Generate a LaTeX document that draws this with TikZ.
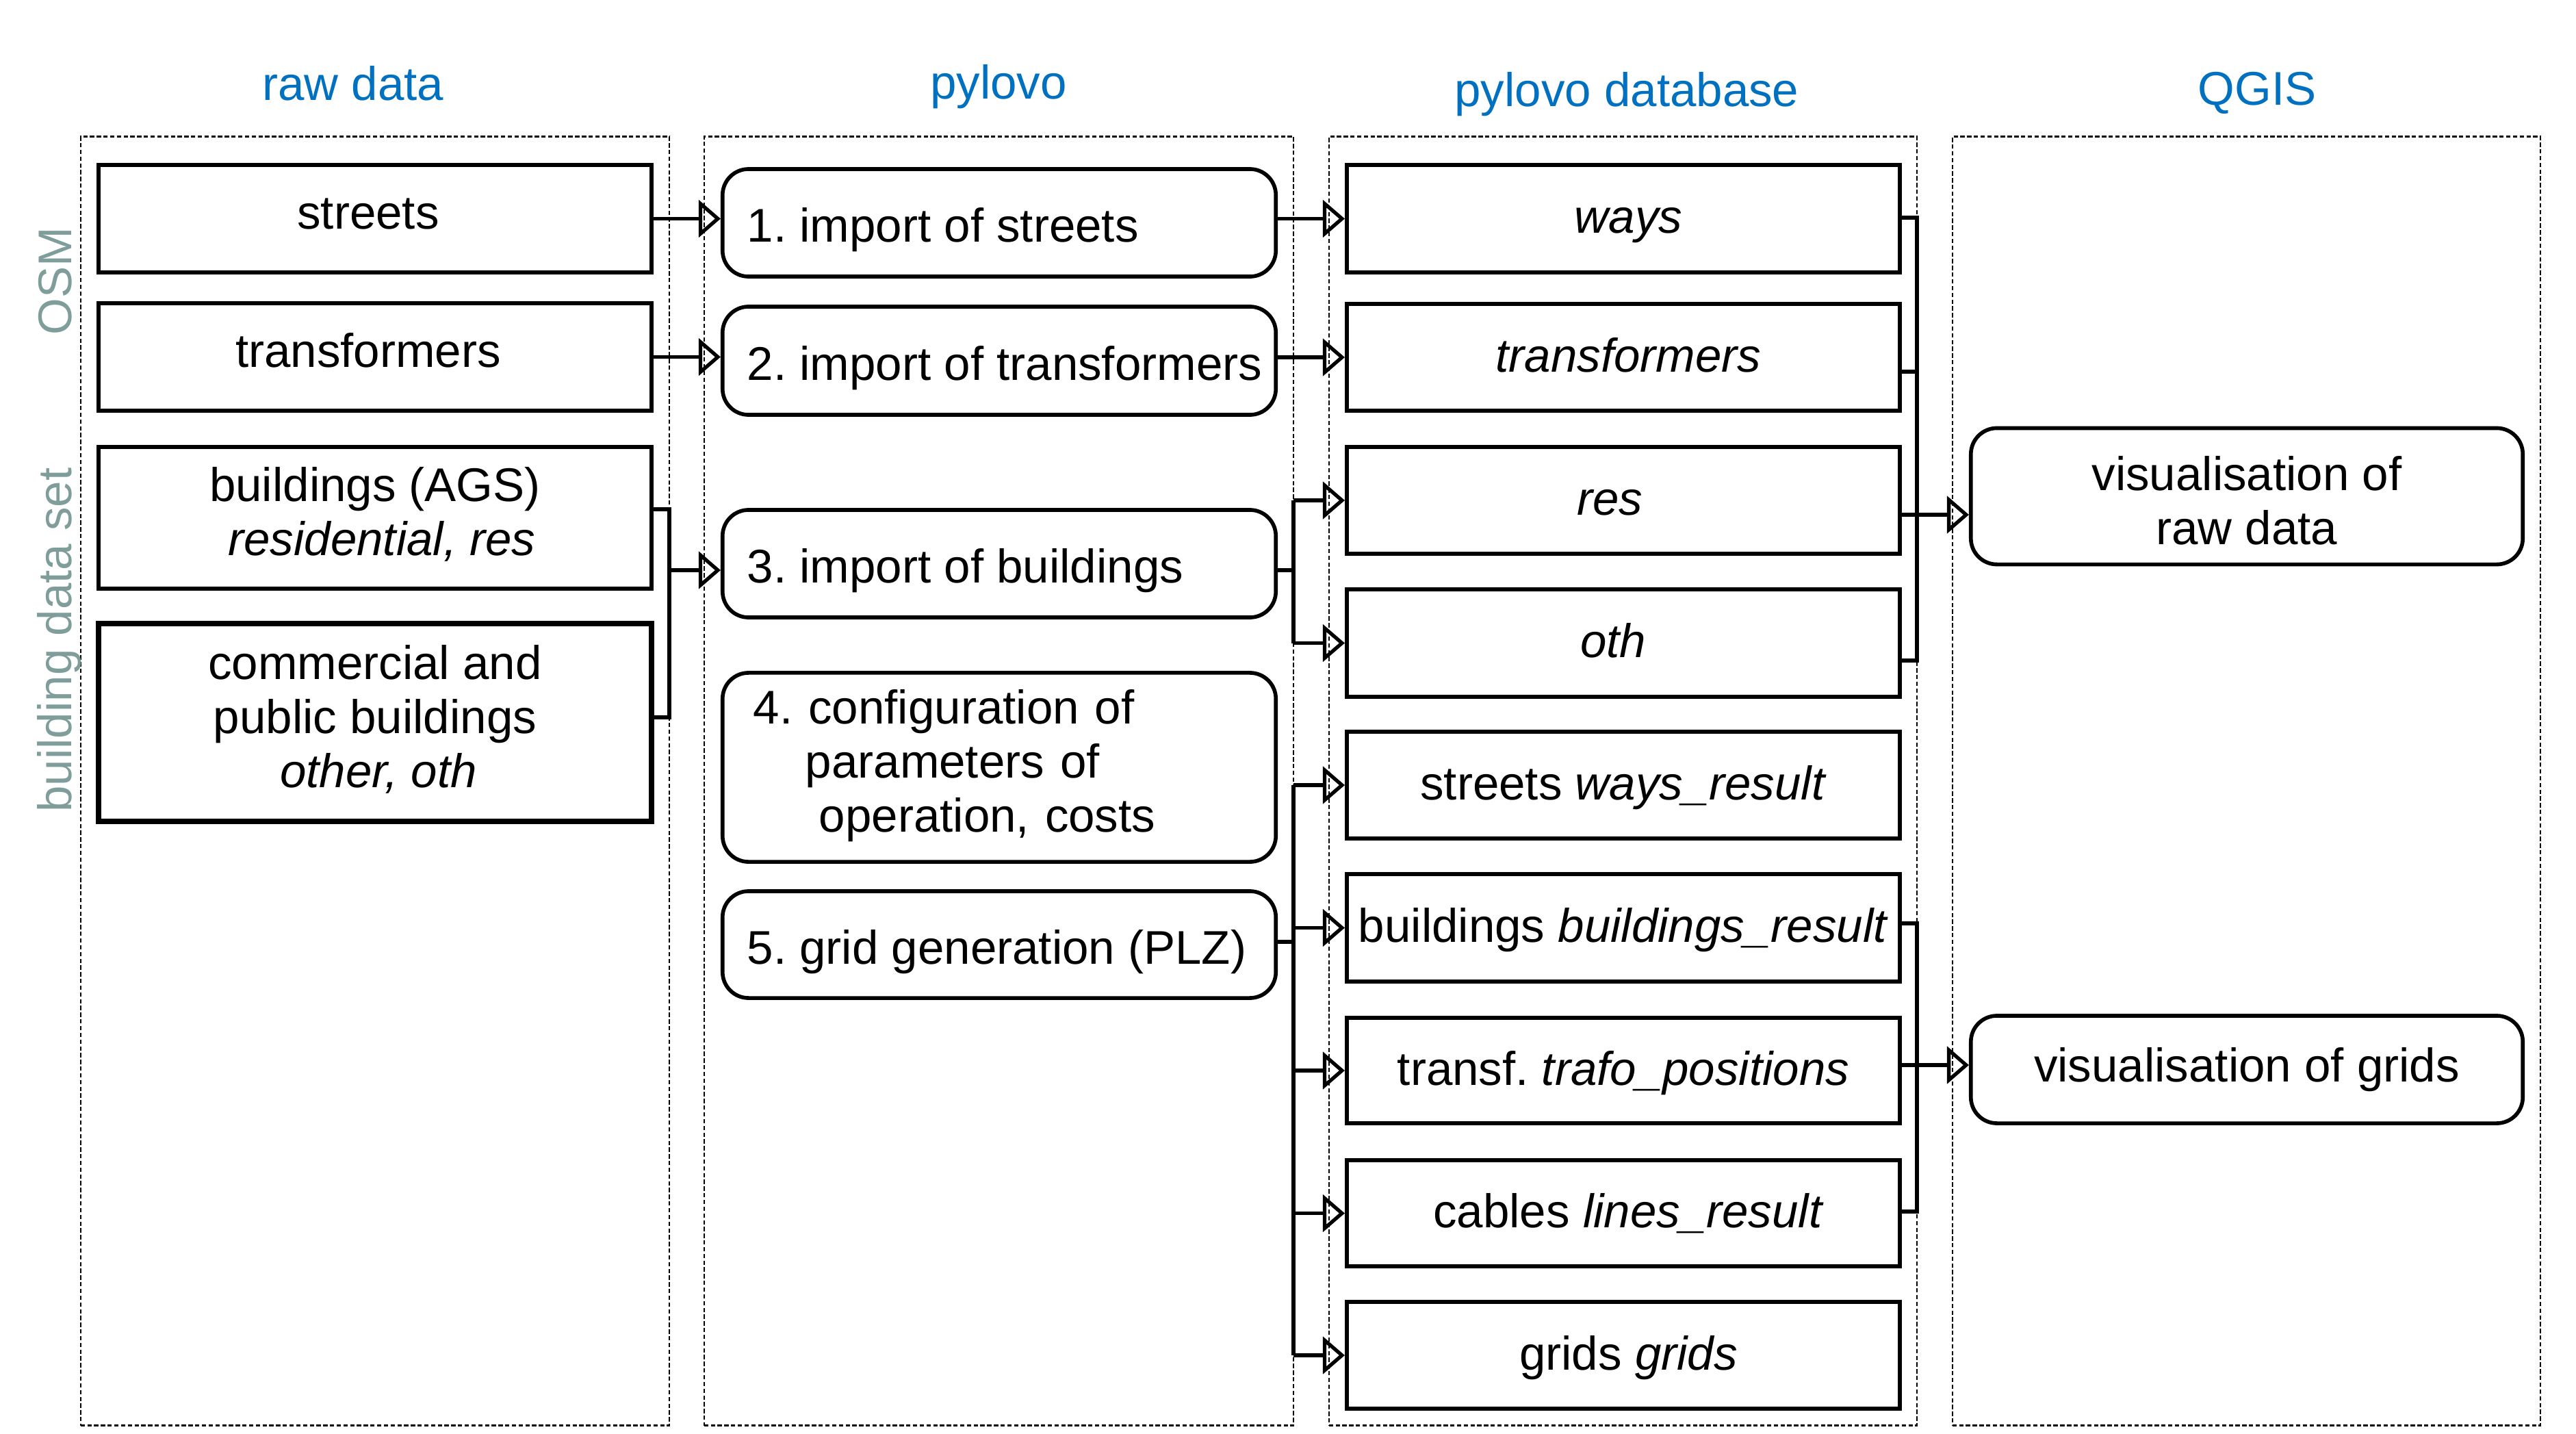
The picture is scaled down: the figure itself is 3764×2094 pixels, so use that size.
\documentclass[tikz,border=0pt]{standalone}
\usepackage{fontspec}
\setmainfont{Liberation Sans}
\usetikzlibrary{arrows.meta,calc}
\definecolor{titleblue}{RGB}{0,112,192}
\definecolor{sidegray}{RGB}{127,157,154}
\newcommand\fs{\fontsize{19.64pt}{0.79cm}\selectfont\frenchspacing}
\newcommand\mystrut{\rule[-0.237cm]{0pt}{0.79cm}}
\begin{document}
\begin{tikzpicture}[x=0.01cm,y=-0.01cm,
  colbox/.style={draw, line width=0.65pt, dash pattern=on 1.8pt off 1pt, inner sep=0pt, minimum height=18.82cm},
  titletext/.style={text=titleblue, font=\fs, anchor=base, inner sep=0pt},
  sidetext/.style={text=sidegray, font=\fs, rotate=90, anchor=base, inner sep=0pt},
  rawbox/.style={draw, line width=1.6pt, minimum width=8.08cm, font=\fs, inner sep=0pt, text height=0.30cm, text depth=0pt},
  rawmulti/.style={draw, line width=1.6pt, minimum width=8.08cm, font=\fs, inner sep=0pt, align=center},
  pybox/.style={draw, line width=1.6pt, rounded corners=0.38cm, minimum width=8.08cm, font=\fs, inner xsep=0.36cm, inner ysep=0pt, text height=0.56cm, text depth=0pt},
  pymulti/.style={draw, line width=1.6pt, rounded corners=0.38cm, minimum width=8.08cm, font=\fs, inner xsep=0.36cm, inner ysep=0pt, text width=7.36cm, align=left},
  dbbox/.style={draw, line width=1.6pt, minimum width=8.08cm, font=\fs, inner sep=0pt, text height=0.42cm, text depth=0pt},
  qbox/.style={draw, line width=1.6pt, rounded corners=0.38cm, minimum width=8.06cm, font=\fs, inner sep=0pt, align=center},
  conn/.style={line width=1.5pt},
  arr/.style={conn, -{Triangle[open, length=0.32cm, width=0.54cm]}}
]
\useasboundingbox (0,0) rectangle (3764,2094);

% columns
\node[colbox, minimum width=8.60cm] (craw) at (548,1141) {};
\node[colbox, minimum width=8.61cm] (cpy) at (1459.5,1141) {};
\node[colbox, minimum width=8.59cm] (cdb) at (2371.5,1141) {};
\node[colbox, minimum width=8.59cm] (cq) at (3282.5,1141) {};

% titles
\node[titletext] (traw) at (516,147) {raw data};
\node[titletext] (tpy) at (1459,145) {pylovo};
\node[titletext] (tdb) at (2377,156) {pylovo database};
\node[titletext] (tq) at (3298,153) {QGIS};

% side labels
\node[sidetext] (losm) at (104,411) {OSM};
\node[sidetext] (lbds) at (104,935) {building data set};

% raw data
\node[rawbox, minimum height=1.57cm] (rstreets) at (548,319.5) {\hspace*{-0.2cm}streets};
\node[rawbox, minimum height=1.57cm] (rtrans) at (548,521.5) {\hspace*{-0.2cm}transformers};
\node[rawmulti, minimum height=2.07cm] (rbld) at (548,756.5) {\mystrut buildings (AGS)\\\mystrut\hspace*{0.2cm}\textit{residential, res}};
\node[rawmulti, line width=2.2pt, minimum height=2.89cm] (rcom) at (548,1055.5) {\mystrut commercial and\\\mystrut public buildings\\\mystrut\hspace*{0.1cm}\textit{other, oth}};

% pylovo
\node[pybox, minimum height=1.57cm] (p1) at (1460,325.5) {\makebox[7.36cm][l]{1. import of streets}};
\node[pybox, minimum height=1.58cm] (p2) at (1460,527) {\makebox[7.36cm][l]{2. import of transformers}};
\node[pybox, minimum height=1.57cm] (p3) at (1460,823.5) {\makebox[7.36cm][l]{3. import of buildings}};
\node[pymulti, minimum height=2.76cm] (p4) at (1460,1121) {\mystrut\hspace*{0.09cm}4. configuration of\\\mystrut\hspace*{0.85cm}parameters of\\\mystrut\hspace*{1.05cm}operation, costs};
\node[pybox, minimum height=1.56cm] (p5) at (1460,1380) {\makebox[7.36cm][l]{5. grid generation (PLZ)}};

% database
\node[dbbox, minimum height=1.57cm] (dways) at (2372,319.5) {\hspace*{0.15cm}\textit{ways}};
\node[dbbox, minimum height=1.56cm] (dtrans) at (2372,522) {\hspace*{0.15cm}\textit{transformers}};
\node[dbbox, minimum height=1.56cm] (dres) at (2372,731) {\hspace*{-0.4cm}\textit{res}};
\node[dbbox, minimum height=1.57cm] (doth) at (2372,939.5) {\hspace*{-0.3cm}\textit{oth}};
\node[dbbox, minimum height=1.56cm] (dstr) at (2372,1147) {streets \textit{ways\_result}};
\node[dbbox, minimum height=1.57cm] (dbld) at (2372,1355.5) {buildings \textit{buildings\_result}};
\node[dbbox, minimum height=1.54cm] (dtrf) at (2372,1564) {transf. \textit{trafo\_positions}};
\node[dbbox, minimum height=1.55cm] (dcab) at (2372,1772.5) {\hspace*{0.15cm}cables \textit{lines\_result}};
\node[dbbox, minimum height=1.56cm] (dgrd) at (2372,1980) {\hspace*{0.15cm}grids \textit{grids}};

% QGIS
\node[qbox, minimum height=1.99cm] (qraw) at (3283,725) {\rule[-0.237cm]{0pt}{1.09cm}visualisation of\\\mystrut raw data};
\node[qbox, minimum height=1.57cm, text height=0.35cm, text depth=0pt] (qgrd) at (3283,1562.5) {visualisation of grids};

% junction coordinates
\coordinate (jb1) at (978,744);
\coordinate (jb2) at (978,1048);
\coordinate (jb3) at (978,833);
\coordinate (j3) at (1890,833);
\coordinate (j5) at (1890,1376);
\coordinate (k1) at (2801,318);
\coordinate (k2) at (2801,543);
\coordinate (k3) at (2801,752);
\coordinate (k4) at (2801,965);
\coordinate (m1) at (2801,1349);
\coordinate (m2) at (2801,1556);
\coordinate (m3) at (2801,1770);

% raw -> pylovo
\draw[arr] (rstreets.east) -- (rstreets.east -| p1.west);
\draw[arr] (rtrans.east) -- (rtrans.east -| p2.west);
\draw[conn] (rbld.east |- jb1) -- (jb1) -- (jb2) -- (rcom.east |- jb2);
\draw[arr] (jb3) -- (jb3 -| p3.west);

% pylovo -> database
\draw[arr] (p1.east |- dways.west) -- (dways.west);
\draw[arr] (p2.east |- dtrans.west) -- (dtrans.west);
\draw[conn] (p3.east |- j3) -- (j3);
\draw[conn] (j3 |- dres.west) -- (j3 |- doth.west);
\draw[arr] (j3 |- dres.west) -- (dres.west);
\draw[arr] (j3 |- doth.west) -- (doth.west);
\draw[conn] (p5.east |- j5) -- (j5);
\draw[conn] (j5 |- dstr.west) -- (j5 |- dgrd.west);
\draw[arr] (j5 |- dstr.west) -- (dstr.west);
\draw[arr] (j5 |- dbld.west) -- (dbld.west);
\draw[arr] (j5 |- dtrf.west) -- (dtrf.west);
\draw[arr] (j5 |- dcab.west) -- (dcab.west);
\draw[arr] (j5 |- dgrd.west) -- (dgrd.west);

% database -> QGIS
\draw[conn] (dways.east |- k1) -- (k1) -- (k4) -- (doth.east |- k4);
\draw[conn] (dtrans.east |- k2) -- (k2);
\draw[arr] (dres.east |- k3) -- (k3 -| qraw.west);
\draw[conn] (dbld.east |- m1) -- (m1) -- (m3) -- (dcab.east |- m3);
\draw[arr] (dtrf.east |- m2) -- (m2 -| qgrd.west);
\end{tikzpicture}
\end{document}
